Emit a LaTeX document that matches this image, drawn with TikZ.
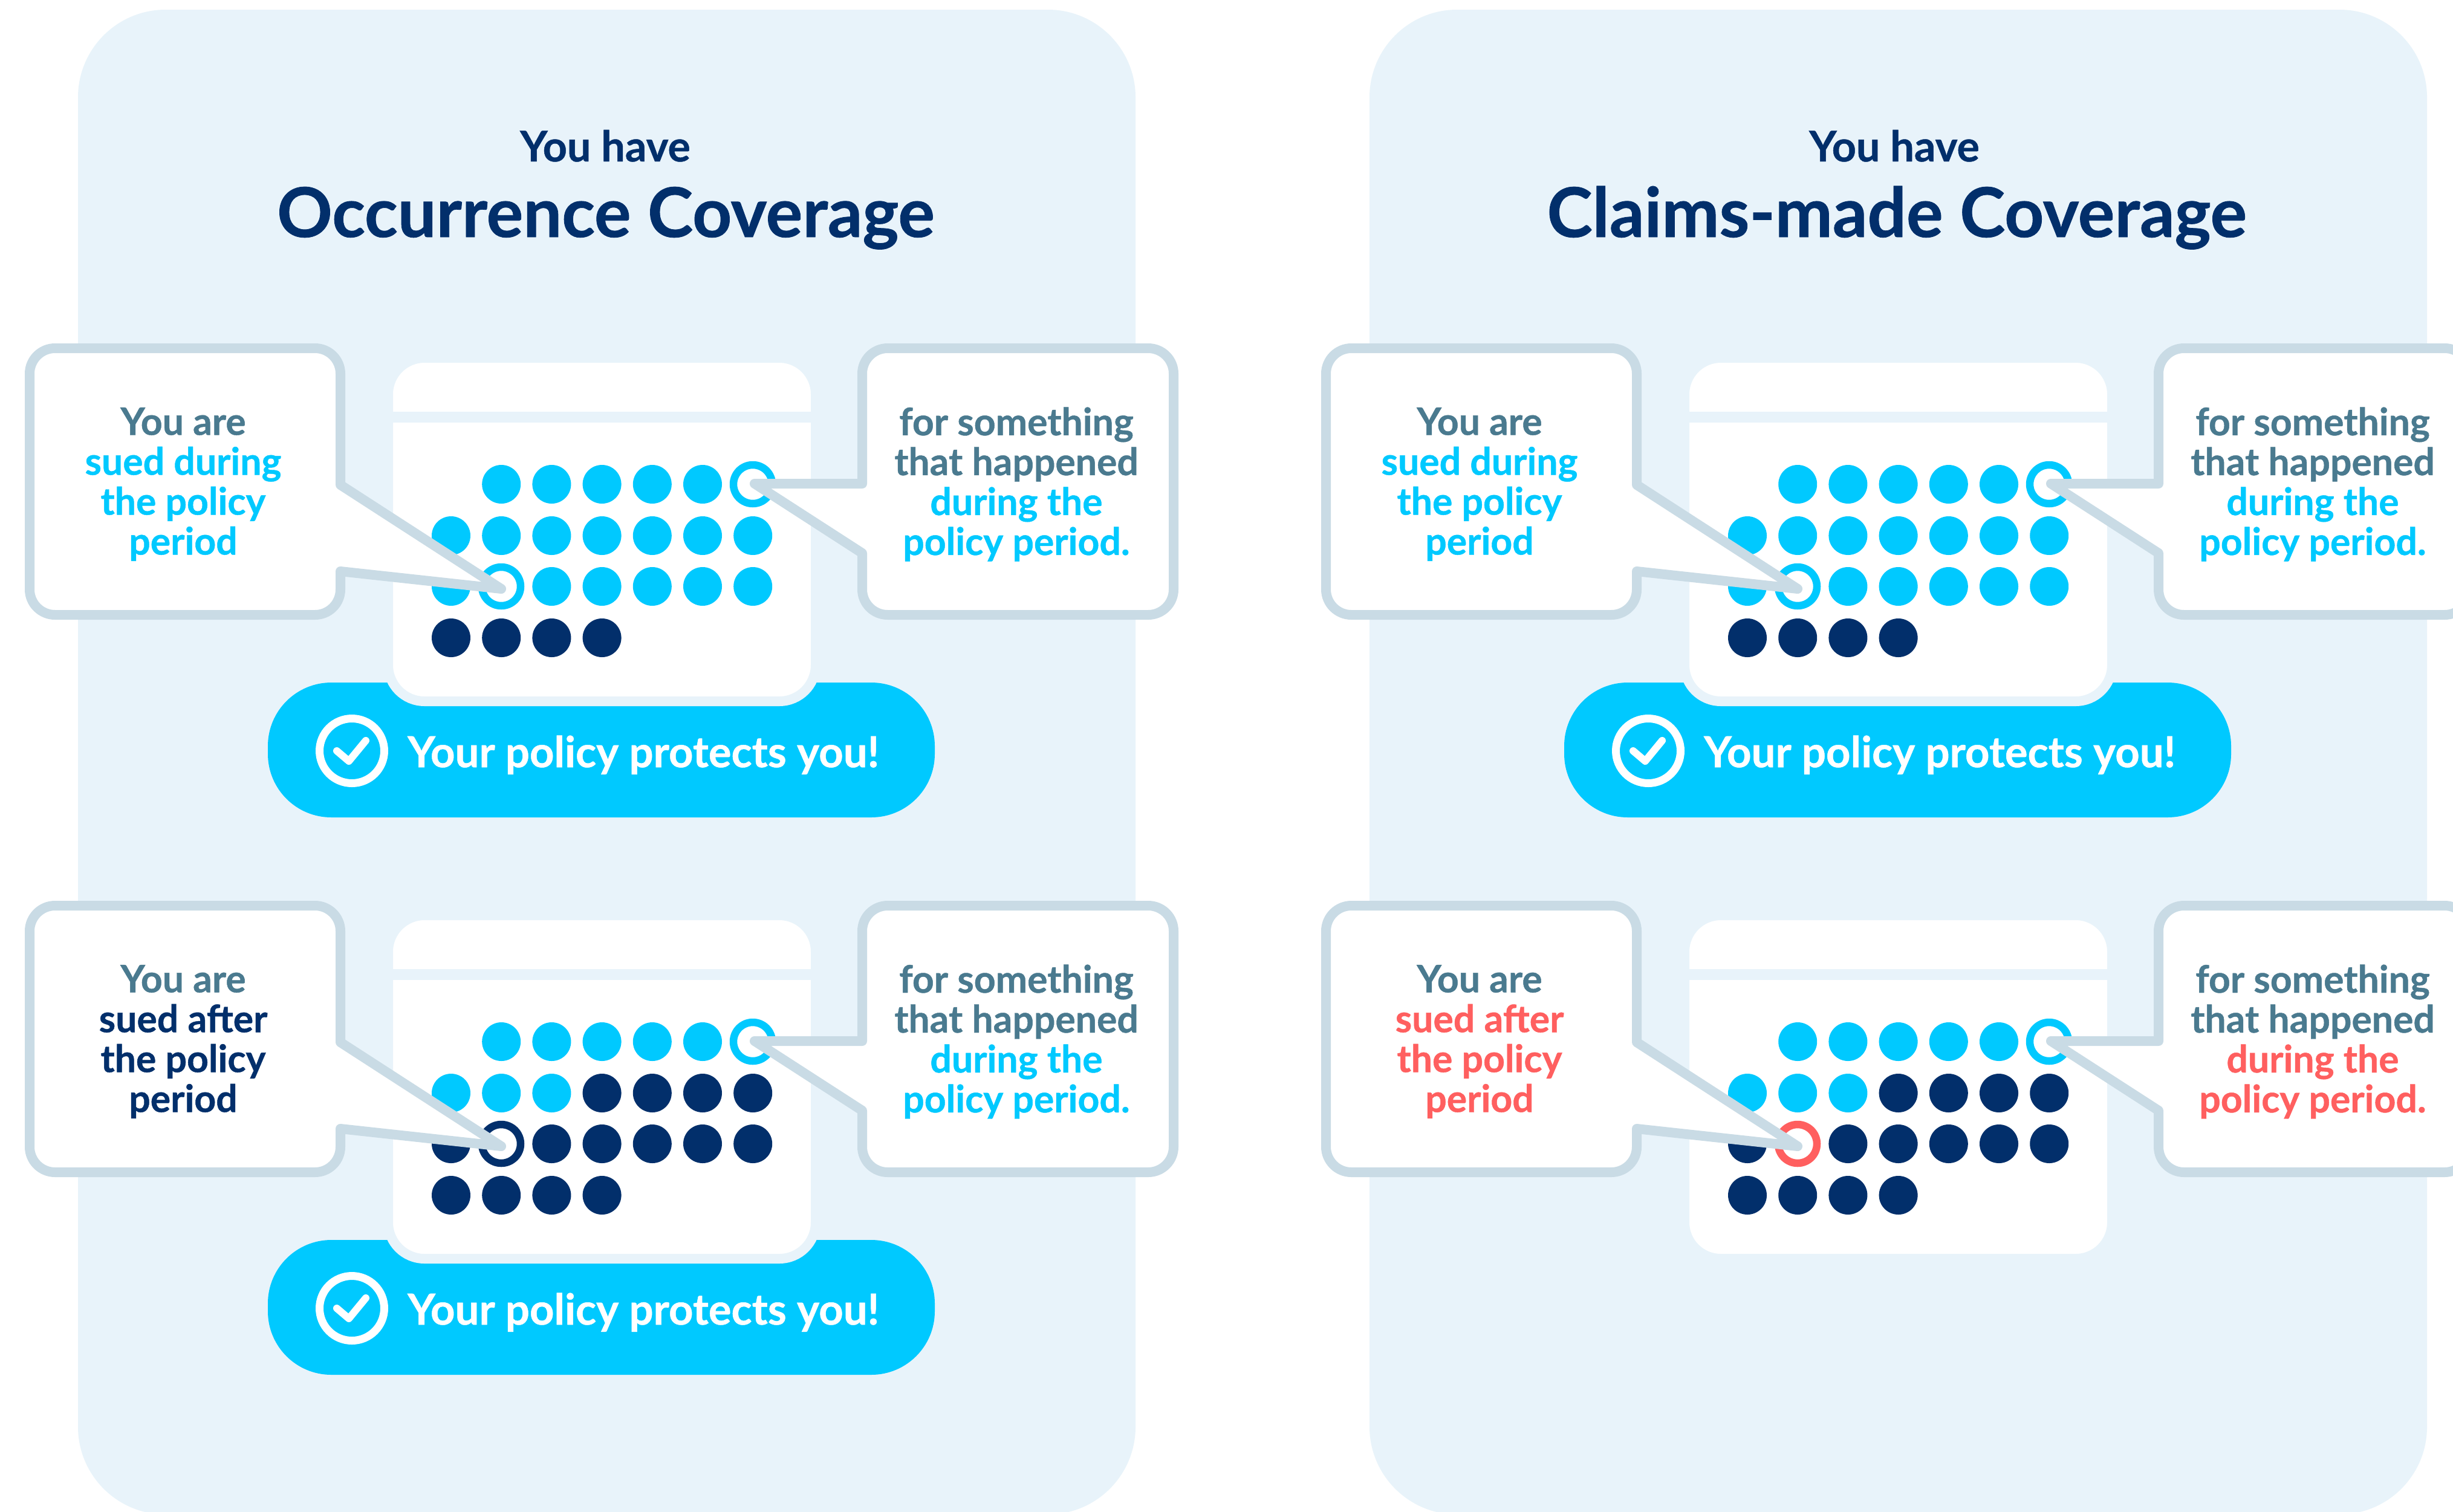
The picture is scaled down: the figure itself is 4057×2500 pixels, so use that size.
\documentclass[tikz,border=0pt]{standalone}
\usepackage{fontspec}
\setmainfont{Lato}[UprightFont=*-Bold,BoldFont=*-Black,FakeBold=0.7]
\usepackage{tikz}
\definecolor{paneblue}{HTML}{E8F3FA}
\definecolor{callgrey}{HTML}{C9DBE5}
\definecolor{brightcy}{HTML}{00C9FF}
\definecolor{darknavy}{HTML}{022F6B}
\definecolor{slatetxt}{HTML}{4A7A8F}
\definecolor{alertred}{HTML}{FF5F5F}
\tikzset{>=latex,
panel/.style={fill=paneblue, rounded corners=145pt},
sheet/.style={fill=white, draw=paneblue, line width=16pt, rounded corners=60pt},
pill/.style={fill=brightcy, rounded corners=105pt},
callout/.style={fill=white, draw=callgrey, line width=16pt, line join=round},
calltext/.style={align=center, font=\fontsize{62.5}{66}\selectfont, inner sep=0pt, text=slatetxt},
banner/.style={anchor=base west, inner sep=0pt, text=white, font=\fontsize{70.6}{66}\selectfont},
toptitle/.style={anchor=base, inner sep=0pt, text=darknavy, font=\fontsize{70}{66}\selectfont},
bigtitle/.style={anchor=base, inner sep=0pt, text=darknavy, font=\fontsize{113.5}{110}\selectfont}
}
% one row of dots: row y, first col, last col, colour
\newcommand{\dotrow}[4]{
\foreach \c in {#2,...,#3}
\fill[#4] (746+83.2*\c-83.2,#1) circle (32pt);
}
% #1 last cyan col of row 2, #2 colour of the other dots, #3 ring colour
% #4 text colour, #5 word after sued, #6 prefix of node names
\newcommand{\sheetbody}[6]{
\draw[sheet] (642,592) rectangle (1349,1160);
\draw[paneblue, line width=18pt] (642,690) -- (1349,690);
\dotrow{801}{2}{6}{brightcy}
\dotrow{886}{1}{#1}{brightcy}
\ifnum#1<7 \dotrow{886}{4}{7}{#2}\fi
\dotrow{970}{1}{1}{#2}
\dotrow{970}{3}{7}{#2}
\dotrow{1055}{1}{4}{darknavy}
\draw[brightcy, fill=white, line width=12.5pt] (1245,801) circle (32pt);
\draw[#3, fill=white, line width=12.5pt] (829,970) circle (32pt);
\draw[callout] (563,802) -- (829,974) -- (563,945) [rounded corners=42pt] -- (563,1017) -- (49,1017) -- (49,576) -- (563,576) [sharp corners] -- cycle;
\draw[callout] (1426,800) -- (1248,800) -- (1426,915) [rounded corners=42pt] -- (1426,1017) -- (1941,1017) -- (1941,576) -- (1426,576) [sharp corners] -- cycle;
\node[calltext] (#6-sued) at (303,801) {You are\\\textcolor{#4}{sued #5}\\\textcolor{#4}{the policy}\\\textcolor{#4}{period}};
}
\newcommand{\bannerpill}{
\fill[pill] (443,1129) rectangle (1546,1352);
\draw[white, line width=13pt] (582,1242) circle (53.5pt);
\draw[white, line width=12pt, line cap=round, line join=round] (557,1242) -- (577,1259) -- (605,1225);
\node[banner] (bannertext) at (674,1269) {Your policy protects you!};
}
\newcommand{\happentext}[2]{
\node[calltext] (#2-happen) at (1681,801) {for something\\that happened\\\textcolor{#1}{during the}\\\textcolor{#1}{policy period.}};
}

\begin{document}
\begin{tikzpicture}[x=1pt,y=-1pt]
\useasboundingbox (0,0) rectangle (4057,2500);
\fill[white] (0,0) rectangle (4057,2500);
\fill[panel] (129,16) rectangle (1878,2505);
\fill[panel] (2265,16) rectangle (4014,2505);
\node[toptitle] (youhaveA) at (1001,267) {You have};
\node[bigtitle] (occurtitle) at (1002,392) {Occurrence Coverage};
\node[toptitle] (youhaveB) at (3133,267) {You have};
\node[bigtitle] (claimstitle) at (3137,392) {Claims-made Coverage};

\begin{scope}
\bannerpill
\sheetbody{7}{brightcy}{brightcy}{brightcy}{during}{oa}
\happentext{brightcy}{oa}
\end{scope}
\begin{scope}[yshift=-922pt]
\bannerpill
\sheetbody{3}{darknavy}{darknavy}{darknavy}{after}{ob}
\happentext{brightcy}{ob}
\end{scope}
\begin{scope}[xshift=2144pt]
\bannerpill
\sheetbody{7}{brightcy}{brightcy}{brightcy}{during}{ca}
\happentext{brightcy}{ca}
\end{scope}
\begin{scope}[xshift=2144pt,yshift=-922pt]
\sheetbody{3}{darknavy}{alertred}{alertred}{after}{cb}
\happentext{alertred}{cb}
\end{scope}
\end{tikzpicture}
\end{document}
